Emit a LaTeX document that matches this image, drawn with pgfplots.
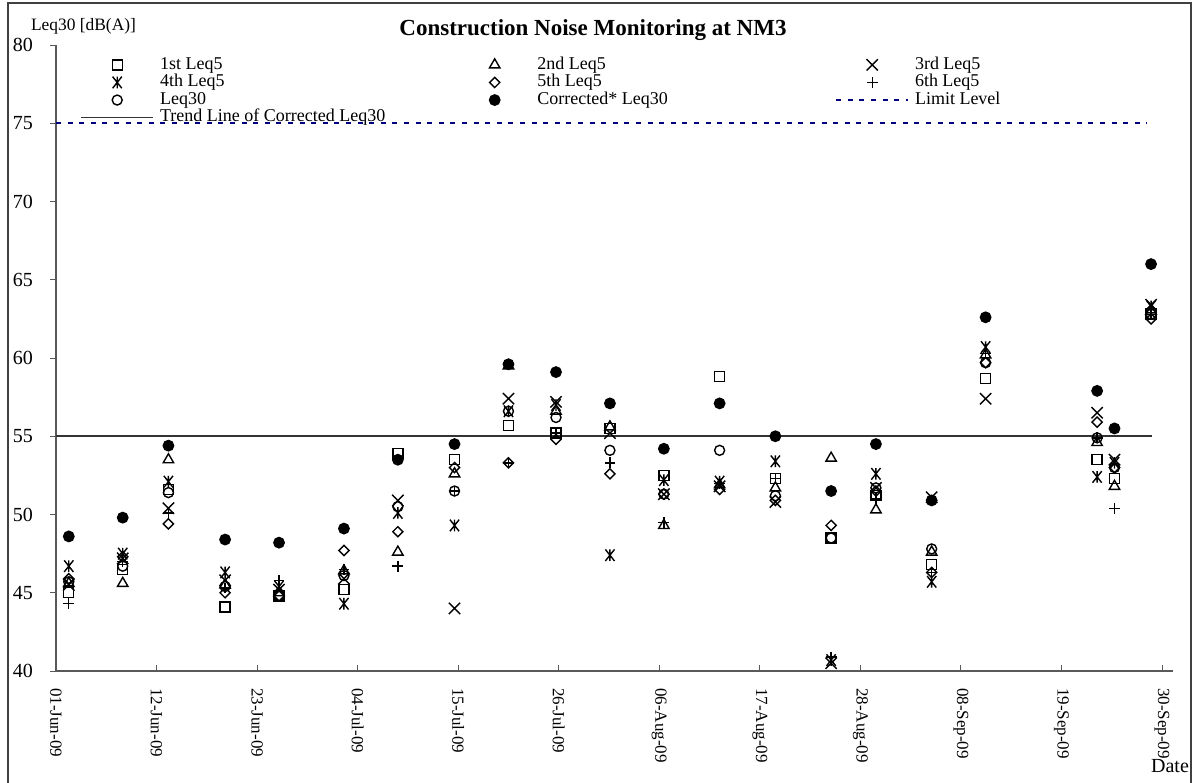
\documentclass[border=0pt]{standalone}
\usepackage{fontspec}
\setmainfont{Liberation Serif}
\usepackage{pgfplots}
\usepackage{pgfplotstable}
\pgfplotsset{compat=1.18}
\definecolor{navyblue}{RGB}{0,0,128}

% x with a vertical bar, as in the 4th Leq5 series
\pgfdeclareplotmark{xbar}{%
  \pgfpathmoveto{\pgfqpoint{-2.3pt}{-2.9pt}}\pgfpathlineto{\pgfqpoint{2.3pt}{2.9pt}}%
  \pgfpathmoveto{\pgfqpoint{-2.3pt}{2.9pt}}\pgfpathlineto{\pgfqpoint{2.3pt}{-2.9pt}}%
  \pgfpathmoveto{\pgfqpoint{0pt}{-2.9pt}}\pgfpathlineto{\pgfqpoint{0pt}{2.9pt}}%
  \pgfusepathqstroke}

% day = days after 01-Jun-09
\pgfplotstableread{
day   L1   L2   L3   L4   L5   L6   Leq  Corr
1.4   45.0 45.6 45.5 46.7 45.9 44.3 45.7 48.6
7.3   46.5 45.6 47.2 47.5 47.3 47.0 46.7 49.8
12.3  51.6 53.5 50.4 52.1 49.4 50.1 51.4 54.4
18.5  44.1 45.5 45.8 46.3 45.0 45.3 45.4 48.4
24.4  44.8 45.0 45.2 45.4 44.8 45.8 44.8 48.2
31.5  45.2 46.4 45.9 44.3 47.7 46.5 46.1 49.1
37.4  53.9 47.6 50.9 50.1 48.9 46.7 50.5 53.5
43.6  53.5 52.6 44.0 49.3 53.0 51.5 51.5 54.5
49.5  55.7 59.5 57.4 56.6 53.3 53.3 56.6 59.6
54.7  55.2 56.6 57.2 57.0 54.8 55.2 56.2 59.1
60.6  55.5 55.6 55.2 47.4 52.6 53.3 54.1 57.1
66.5  52.5 49.3 51.3 52.2 51.3 49.5 51.3 54.2
72.6  58.8 51.9 51.8 52.1 51.6 52.0 54.1 57.1
78.7  52.3 51.7 50.8 53.4 50.9 52.3 51.2 55.0
84.8  48.5 53.6 40.5 40.7 49.3 40.9 48.5 51.5
89.7  51.2 50.3 51.7 52.6 51.5 51.0 51.7 54.5
95.8  46.8 47.6 51.1 45.7 46.3 46.3 47.8 50.9
101.7 58.7 60.2 57.4 60.7 59.7 60.3 59.7 62.6
113.9 53.5 54.6 56.5 52.4 55.9 54.9 54.9 57.9
115.8 52.3 51.8 53.5 53.3 53.0 50.4 53.0 55.5
119.8 62.8 63.0 63.4 63.3 62.5 62.9 62.8 66.0
}\noisedata

\pgfplotsset{
  sc/.style={only marks, black, line width=0.7pt,
    legend image code/.code={\path (0pt,0pt) (36pt,0pt);
      \draw[##1] plot coordinates {(18pt,0pt)};}},
  ln/.style={legend image code/.code={\draw[##1] (0pt,0pt) -- (36pt,0pt);}},
}

\begin{document}
\begin{tikzpicture}
\useasboundingbox (-28pt,-56pt) rectangle (570pt,335.5pt);
\begin{axis}[
  at={(0pt,0pt)}, anchor=south west,
  scale only axis, width=558.5pt, height=313pt,
  xmin=0, xmax=122.2, ymin=40, ymax=80,
  clip=false,
  axis x line*=bottom, axis y line*=left,
  axis line style={black!65, line width=0.6pt},
  xtick={0,11,...,121},
  xticklabels={01-Jun-09,12-Jun-09,23-Jun-09,04-Jul-09,15-Jul-09,26-Jul-09,06-Aug-09,17-Aug-09,28-Aug-09,08-Sep-09,19-Sep-09,30-Sep-09},
  ytick={40,45,...,80},
  xtick align=inside, ytick align=outside,
  major tick length=3pt,
  tick style={black!65, line width=0.5pt},
  xticklabel shift=5pt, yticklabel shift=5pt,
  xticklabel style={rotate=-90, anchor=west, font=\fontsize{8.5}{10}\selectfont},
  yticklabel style={font=\fontsize{10}{12}\selectfont},
  /pgf/number format/assume math mode=true,
  legend columns=3,
  legend cell align=left,
  legend style={draw=none, fill=none, at={(0.0215,0.983)}, anchor=north west,
    inner sep=0pt, font=\fontsize{9}{10}\selectfont, column sep=0pt, row sep=0pt,
    nodes={inner ysep=0pt, inner xsep=3pt, text height=6.5pt, text depth=2.3pt}},
]
\addplot[sc, mark=square, mark size=2.5pt] table[x=day, y=L1] {\noisedata};
\addlegendentry{\makebox[146pt][l]{1st Leq5}}
\addplot[sc, mark=triangle, mark size=3pt] table[x=day, y=L2] {\noisedata};
\addlegendentry{\makebox[146pt][l]{2nd Leq5}}
\addplot[sc, mark=x, mark size=4pt] table[x=day, y=L3] {\noisedata};
\addlegendentry{\makebox[146pt][l]{3rd Leq5}}
\addplot[sc, mark=xbar] table[x=day, y=L4] {\noisedata};
\addlegendentry{\makebox[146pt][l]{4th Leq5}}
\addplot[sc, mark=square, mark size=1.8pt, mark options={rotate=45}] table[x=day, y=L5] {\noisedata};
\addlegendentry{\makebox[146pt][l]{5th Leq5}}
\addplot[sc, mark=+, mark size=2.7pt] table[x=day, y=L6] {\noisedata};
\addlegendentry{\makebox[146pt][l]{6th Leq5}}
\addplot[sc, mark=o, mark size=2.5pt] table[x=day, y=Leq] {\noisedata};
\addlegendentry{\makebox[146pt][l]{Leq30}}
\addplot[sc, mark=*, mark size=2.6pt] table[x=day, y=Corr] {\noisedata};
\addlegendentry{\makebox[146pt][l]{Corrected* Leq30}}
\addplot[ln, navyblue, line width=0.8pt, dash pattern=on 2.5pt off 3.3pt] coordinates {(0,75) (119.4,75)};
\addlegendentry{\makebox[146pt][l]{Limit Level}}
\addplot[ln, black!80, line width=0.8pt] coordinates {(0,55) (119.9,55)};
\addlegendentry{\makebox[146pt][l]{Trend Line of Corrected Leq30}}
\end{axis}
\node[anchor=west, font=\fontsize{8.7}{10}\selectfont] at (-16pt,322.5pt) {Leq30 [dB(A)]};
\node[font=\bfseries\fontsize{11.5}{13}\selectfont] at (268.5pt,320.5pt) {Construction Noise Monitoring at NM3};
\node[font=\fontsize{10}{12}\selectfont] at (557pt,-47.5pt) {Date};
\draw[black!75, line width=1.2pt] (-24pt,-56pt) -- (-24pt,334pt) -- (567.5pt,334pt) -- (567.5pt,-56pt);
\end{tikzpicture}
\end{document}
